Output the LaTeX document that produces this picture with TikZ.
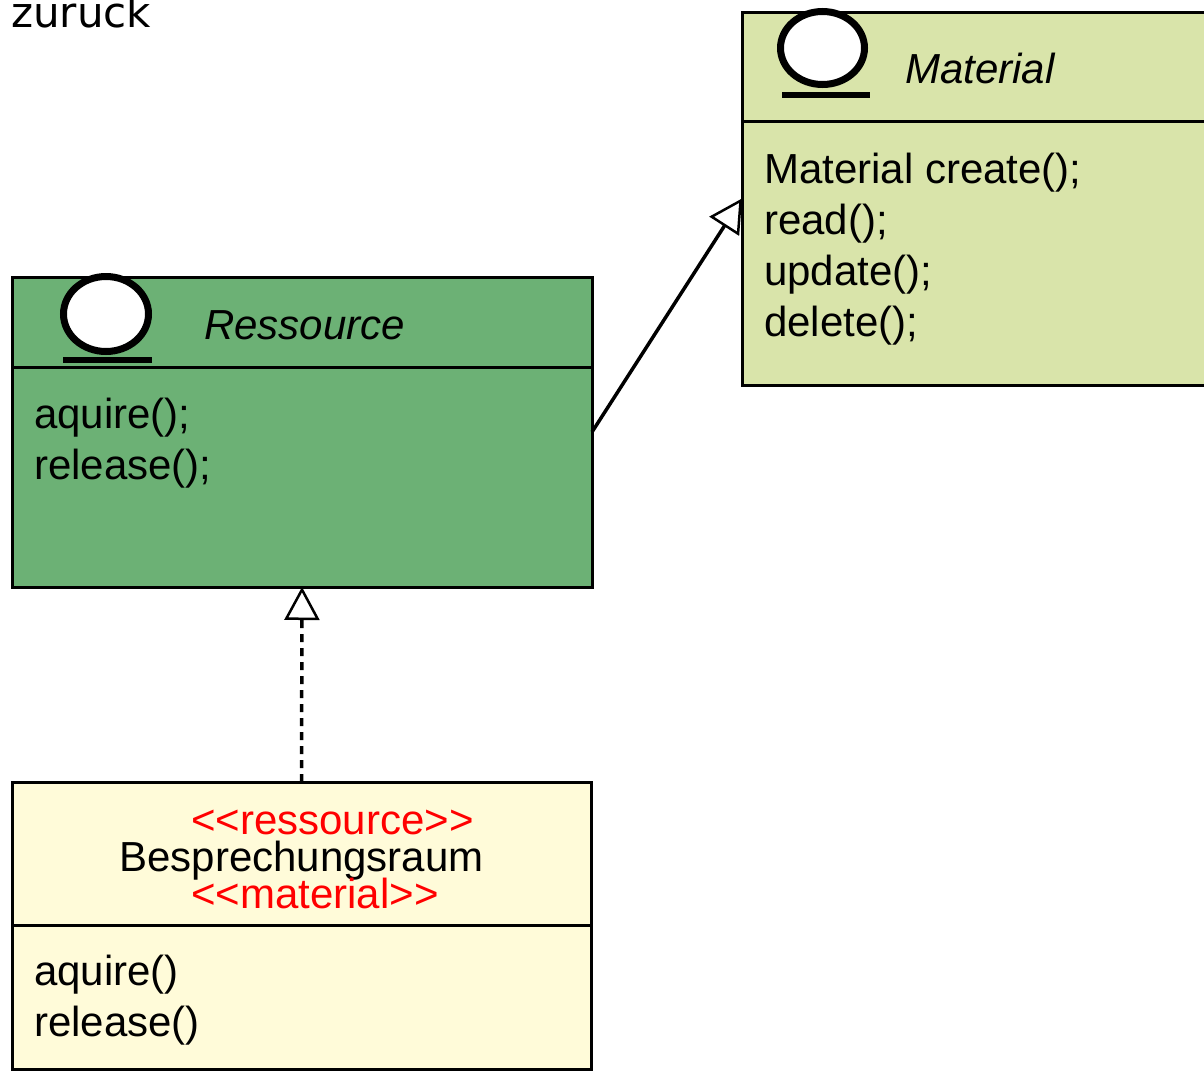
\documentclass[tikz,border=0pt]{standalone}
\usepackage{fontspec}
\setmainfont{Liberation Sans}
\newfontfamily\dejavu{DejaVu Sans}
\usetikzlibrary{arrows.meta}
\definecolor{matfill}{HTML}{D9E4AA}
\definecolor{resfill}{HTML}{6CB175}
\definecolor{besfill}{HTML}{FFFBD9}
\definecolor{stereo}{HTML}{FF0000}
\tikzset{
  umlbox/.style={draw=black, line width=3pt, rectangle, inner sep=0pt, outer sep=0pt},
  sepline/.style={line width=3pt},
  txt/.style={anchor=base west, inner sep=0pt, font=\fontsize{42}{50}\selectfont},
  ititle/.style={txt, font=\fontsize{42}{50}\selectfont\itshape},
  iconring/.style={draw=black, fill=white, line width=7pt},
  iconbar/.style={fill=black, draw=none},
  opentri/.style={-{Triangle[open, length=33pt, width=35pt, line width=2.5pt, fill=white]}},
  generalize/.style={opentri, line width=3.5pt},
  realize/.style={opentri, line width=3.5pt, dash pattern=on 8pt off 6pt},
}
\begin{document}
\begin{tikzpicture}[x=1pt, y=-1pt]
\useasboundingbox (0,0) rectangle (1204,1071);
\clip (0,0) rectangle (1204,1071);
\fill[white] (0,0) rectangle (1204,1071);

% zuruck
\node[anchor=base west, inner sep=0pt, font=\dejavu\fontsize{42}{50}\selectfont] (zur) at (11,27) {zuruck};

% Material interface
\node[umlbox, fill=matfill, minimum width=560pt, minimum height=373pt] (mat) at (1022,198.5) {};
\draw[sepline] (742,121) -- (1300,121);
\draw[iconring] (822.5,48) ellipse [x radius=42pt, y radius=36.5pt];
\fill[iconbar] (782,92) rectangle (870,98);
\node[ititle] (mattitle) at (905,83) {Material};
\node[txt] (m1) at (764,183) {Material create();};
\node[txt] (m2) at (764,234) {read();};
\node[txt] (m3) at (764,285) {update();};
\node[txt] (m4) at (764,336) {delete();};

% Ressource interface
\node[umlbox, fill=resfill, minimum width=580pt, minimum height=310pt] (res) at (302,432) {};
\draw[sepline] (12,367) -- (592,367);
\draw[iconring] (106,314) ellipse [x radius=42.5pt, y radius=37.5pt];
\fill[iconbar] (63,357) rectangle (152,363);
\node[ititle] (restitle) at (204,339) {Ressource};
\node[txt] (r1) at (34,428) {aquire();};
\node[txt] (r2) at (34,479) {release();};

% Besprechungsraum class
\node[umlbox, fill=besfill, minimum width=579pt, minimum height=287pt] (bes) at (301.5,925.5) {};
\draw[sepline] (12,925) -- (591,925);
\node[txt, text=stereo] (s1) at (191,834) {<{}<ressource>{}>};
\node[txt, anchor=base] (bname) at (301.5,871) {Besprechungsraum};
\node[txt, text=stereo] (s2) at (191,908) {<{}<material>{}>};
\node[txt] (b1) at (34,985) {aquire()};
\node[txt] (b2) at (34,1036) {release()};

% connectors
\draw[realize] (bes.north) -- (res.south);
\draw[generalize] (res.east) -- (mat.west);
\end{tikzpicture}
\end{document}
